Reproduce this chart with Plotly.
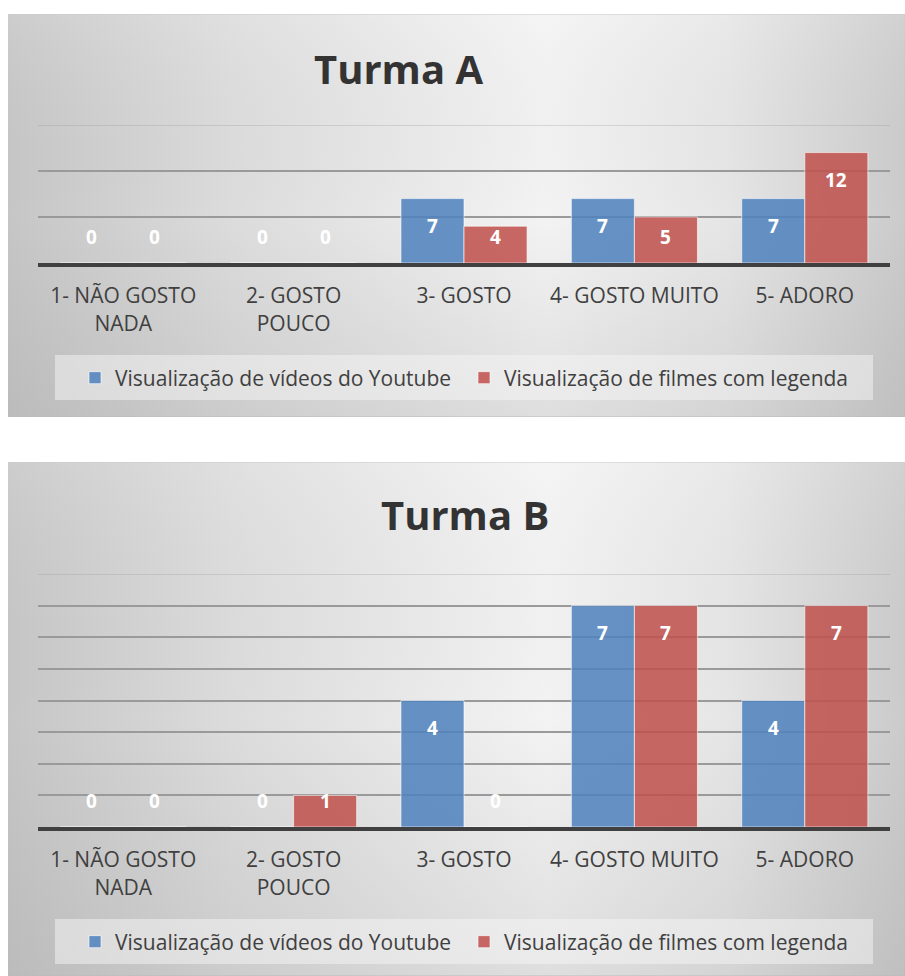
import plotly.graph_objects as go

W, H = 905, 976

# ---- data ----
categories = ["1- NÃO GOSTO<br>NADA", "2- GOSTO<br>POUCO", "3- GOSTO", "4- GOSTO MUITO", "5- ADORO"]
series_names = ["Visualização de vídeos do Youtube", "Visualização de filmes com legenda"]
turma_a_youtube = [0, 0, 7, 7, 7]
turma_a_filmes = [0, 0, 4, 5, 12]
turma_b_youtube = [0, 0, 4, 7, 4]
turma_b_filmes = [0, 1, 0, 7, 7]
titles = ["Turma A", "Turma B"]
y_max = [15, 8]
grid_step = [5, 1]

# ---- styling / layout (pixels) ----
FONT = "Open Sans"
TXT = "#404040"
BLUE = "rgba(79,129,189,0.86)"
RED = "rgba(192,80,77,0.86)"
BARGAP = 0.26

charts = [
    dict(box=(8, 14, 905, 417), plot=(38, 125, 890, 263), title=(398, 68),
         legend_y=378, legend_box=(55, 355, 873, 400)),
    dict(box=(8, 462, 905, 976), plot=(38, 574, 890, 827), title=(465, 514),
         legend_y=942, legend_box=(55, 919, 873, 964)),
]

def fx(x):
    return x / W

def fy(y):
    return 1 - y / H

fig = go.Figure()
annotations = []
shapes = []
layout_axes = {}

# background subplots (1, 2)
for i, c in enumerate(charts):
    n = i + 1
    bx0, by0, bx1, by1 = c["box"]
    xa = "x" if n == 1 else f"x{n}"
    ya = "y" if n == 1 else f"y{n}"
    fig.add_trace(go.Scatter(
        x=[0, 1, 1, 0, 0], y=[0, 0, 1, 1, 0], xaxis=xa, yaxis=ya,
        mode="lines", fill="toself",
        line=dict(color="#c4c4c4", width=1),
        fillgradient=dict(type="horizontal",
                          colorscale=[[0, "#c6c6c6"], [0.25, "#dcdcdc"], [0.6, "#f3f3f3"],
                                      [0.8, "#e6e6e6"], [1, "#cbcbcb"]]),
        hoverinfo="skip", showlegend=False))
    fig.add_trace(go.Scatter(
        x=[0, 1, 1, 0, 0], y=[0, 0, 1, 1, 0], xaxis=xa, yaxis=ya,
        mode="lines", fill="toself", line=dict(width=0),
        fillgradient=dict(type="vertical",
                          colorscale=[[0, "rgba(150,150,150,0.22)"], [0.5, "rgba(150,150,150,0)"],
                                      [1, "rgba(255,255,255,0.12)"]]),
        hoverinfo="skip", showlegend=False))
    # legend box
    lx0, ly0, lx1, ly1 = c["legend_box"]
    u0 = (lx0 - bx0) / (bx1 - bx0)
    u1 = (lx1 - bx0) / (bx1 - bx0)
    v0 = (by1 - ly1) / (by1 - by0)
    v1 = (by1 - ly0) / (by1 - by0)
    fig.add_trace(go.Scatter(
        x=[u0, u1, u1, u0, u0], y=[v0, v0, v1, v1, v0], xaxis=xa, yaxis=ya,
        mode="lines", fill="toself", line=dict(width=0),
        fillcolor="rgba(245,245,245,0.5)", hoverinfo="skip", showlegend=False))
    layout_axes["xaxis" if n == 1 else f"xaxis{n}"] = dict(
        domain=[fx(bx0), fx(bx1)], range=[0, 1], visible=False, fixedrange=True,
        anchor=ya)
    layout_axes["yaxis" if n == 1 else f"yaxis{n}"] = dict(
        domain=[fy(by1), fy(by0)], range=[0, 1], visible=False, fixedrange=True,
        anchor=xa)

data_sets = [(turma_a_youtube, turma_a_filmes), (turma_b_youtube, turma_b_filmes)]

for i, c in enumerate(charts):
    n = i + 3
    xa, ya = f"x{n}", f"y{n}"
    legend_name = "legend" if i == 0 else "legend2"
    px0, py0, px1, py1 = c["plot"]
    plot_w = px1 - px0
    plot_h = py1 - py0
    ppu = plot_h / y_max[i]
    bar_w = plot_w / len(categories) * (1 - BARGAP) / 2
    for j, (vals, color) in enumerate(zip(data_sets[i], [BLUE, RED])):
        fig.add_trace(go.Bar(
            x=categories, y=vals, name=series_names[j], xaxis=xa, yaxis=ya,
            marker=dict(color=color, line=dict(color="rgba(255,255,255,0.6)", width=1)),
            legend=legend_name, showlegend=True, hoverinfo="x+y+name"))
        for k, v in enumerate(vals):
            ly = max(v - 27 / ppu, 26 / ppu)
            annotations.append(dict(
                x=categories[k], y=ly, xref=xa, yref=ya, text=str(v), showarrow=False,
                xshift=(-1 if j == 0 else 1) * bar_w / 2,
                font=dict(family=FONT, size=19, color="white", weight="bold")))
    layout_axes[f"xaxis{n}"] = dict(
        domain=[fx(px0), fx(px1)], anchor=ya, type="category",
        showline=True, linecolor="#404040", linewidth=4, showgrid=False,
        ticks="", ticklabelstandoff=11,
        tickfont=dict(family=FONT, size=21, color=TXT), fixedrange=True)
    layout_axes[f"yaxis{n}"] = dict(
        domain=[fy(py1), fy(py0)], anchor=xa, range=[0, y_max[i]],
        tickvals=list(range(grid_step[i], y_max[i], grid_step[i])),
        showticklabels=False, showgrid=True, gridcolor="#9a9a9a", gridwidth=1.5,
        zeroline=False, fixedrange=True)
    # faint top gridline
    shapes.append(dict(type="line", xref=f"{xa} domain", yref=ya, x0=0, x1=1,
                       y0=y_max[i], y1=y_max[i], layer="above",
                       line=dict(color="rgba(150,150,150,0.4)", width=1.5)))
    # title
    tx, ty = c["title"]
    annotations.append(dict(x=fx(tx), y=fy(ty), xref="paper", yref="paper",
                            text=titles[i], showarrow=False, xanchor="center", yanchor="middle",
                            font=dict(family=FONT, size=40, color="#333333", weight="bold")))
    lx0, ly0, lx1, ly1 = c["legend_box"]
    layout_axes[legend_name] = dict(
        orientation="h", x=fx((lx0 + lx1) / 2), xanchor="center",
        y=fy(c["legend_y"]), yanchor="middle", bgcolor="rgba(0,0,0,0)",
        entrywidth=344, entrywidthmode="pixels",
        font=dict(family=FONT, size=21, color=TXT), itemclick=False, itemdoubleclick=False)

fig.update_layout(
    width=W, height=H, margin=dict(l=0, r=0, t=0, b=0),
    paper_bgcolor="white", plot_bgcolor="rgba(0,0,0,0)",
    barmode="group", bargap=BARGAP, bargroupgap=0,
    annotations=annotations, shapes=shapes,
    font=dict(family=FONT, color=TXT),
    **layout_axes)

fig.write_html("out.html", config={"displayModeBar": False},
               post_script="document.body.style.margin='0';document.body.style.overflow='hidden';")
